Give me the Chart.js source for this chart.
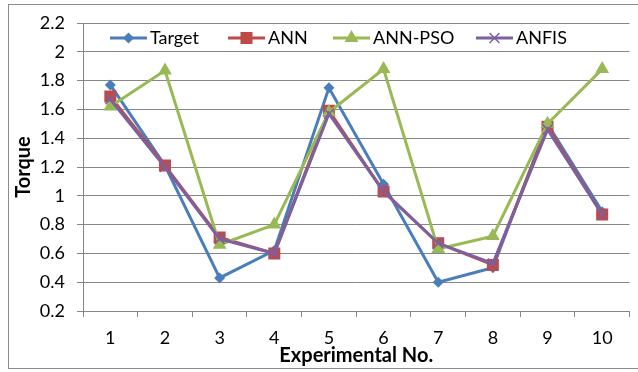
<!DOCTYPE html>
<html>
<head>
<meta charset="utf-8">
<script src="https://cdn.jsdelivr.net/npm/chart.js@4/dist/chart.umd.min.js"></script>
<style>
html,body{margin:0;padding:0;background:#fff;}
#wrap{position:relative;width:638px;height:372px;}
</style>
</head>
<body>
<div id="wrap"><canvas id="c" width="638" height="372"></canvas></div>
<script>
const categories = ['1','2','3','4','5','6','7','8','9','10'];
const target = [1.77, 1.21, 0.43, 0.62, 1.75, 1.08, 0.40, 0.50, 1.50, 0.89];
const ann    = [1.69, 1.21, 0.71, 0.60, 1.59, 1.03, 0.67, 0.52, 1.48, 0.87];
const annPso = [1.62, 1.87, 0.66, 0.80, 1.58, 1.88, 0.63, 0.72, 1.50, 1.88];
const anfis  = [1.67, 1.20, 0.70, 0.60, 1.57, 1.03, 0.67, 0.53, 1.46, 0.87];
const yTicks = [0.2, 0.4, 0.6, 0.8, 1, 1.2, 1.4, 1.6, 1.8, 2, 2.2];
const seriesNames = ['Target', 'ANN', 'ANN-PSO', 'ANFIS'];
const xTitle = 'Experimental No.';
const yTitle = 'Torque';

const FONT = 'Lato';
Chart.defaults.font.family = FONT;
Chart.defaults.font.size = 18;
Chart.defaults.color = '#000';

function drawMarker(ctx, style, x, y, r, color) {
  ctx.save();
  ctx.fillStyle = color; ctx.strokeStyle = color;
  ctx.beginPath();
  if (style === 'rectRot') {
    ctx.moveTo(x, y - r); ctx.lineTo(x + r, y); ctx.lineTo(x, y + r); ctx.lineTo(x - r, y); ctx.closePath(); ctx.fill();
  } else if (style === 'rect') {
    const s = r * Math.SQRT1_2; ctx.rect(x - s, y - s, 2 * s, 2 * s); ctx.fill();
  } else if (style === 'triangle') {
    ctx.moveTo(x, y - r); ctx.lineTo(x + r * 0.866, y + r * 0.5); ctx.lineTo(x - r * 0.866, y + r * 0.5); ctx.closePath(); ctx.fill();
  } else if (style === 'crossRot') {
    const s = r * Math.SQRT1_2; ctx.lineWidth = 1.5;
    ctx.moveTo(x - s, y - s); ctx.lineTo(x + s, y + s); ctx.moveTo(x + s, y - s); ctx.lineTo(x - s, y + s); ctx.stroke();
  }
  ctx.restore();
}

const borderPlugin = {
  id: 'frame',
  beforeDraw(chart) {
    const ctx = chart.ctx;
    ctx.save();
    ctx.fillStyle = '#fff';
    ctx.fillRect(0, 0, chart.width, chart.height);
    ctx.strokeStyle = '#8c8c8c';
    ctx.lineWidth = 1;
    ctx.strokeRect(8.5, 4.5, 640, 364);
    ctx.restore();
  }
};

const legendX = [110, 228, 333, 476];
const legendPlugin = {
  id: 'xlLegend',
  afterDraw(chart) {
    const ctx = chart.ctx;
    ctx.save();
    ctx.font = '18px ' + FONT;
    ctx.textBaseline = 'middle';
    const y = 38;
    chart.data.datasets.forEach((ds, i) => {
      const x = legendX[i];
      ctx.strokeStyle = ds.borderColor;
      ctx.lineWidth = 3;
      ctx.beginPath(); ctx.moveTo(x, y); ctx.lineTo(x + 37, y); ctx.stroke();
      drawMarker(ctx, ds.pointStyle, x + 18.5, y, ds.pointRadius, ds.pointBackgroundColor);
      ctx.fillStyle = '#000';
      ctx.fillText(ds.label, x + 40, y);
    });
    ctx.restore();
  }
};

function mk(label, data, color, style, radius, order) {
  return {
    label, data,
    borderColor: color, backgroundColor: color,
    pointBackgroundColor: color, pointBorderColor: color,
    pointStyle: style, pointRadius: radius, pointHoverRadius: radius,
    pointBorderWidth: style === 'crossRot' ? 1.5 : 0,
    borderWidth: 3, tension: 0, order
  };
}

new Chart(document.getElementById('c'), {
  type: 'line',
  data: {
    labels: categories,
    datasets: [
      mk(seriesNames[0], target, '#4A7EBB', 'rectRot', 5.5, 4),
      mk(seriesNames[1], ann, '#BE4B48', 'rect', 8.5, 3),
      mk(seriesNames[2], annPso, '#98B954', 'triangle', 8, 2),
      mk(seriesNames[3], anfis, '#7D60A0', 'crossRot', 7, 1)
    ]
  },
  options: {
    responsive: false,
    animation: false,
    layout: { padding: { left: 8, top: 23, right: 5, bottom: 6 } },
    plugins: { legend: { display: false }, tooltip: { enabled: false } },
    scales: {
      x: {
        offset: true,
        grid: { offset: true, drawOnChartArea: false, drawTicks: true, tickLength: 6, color: '#868686' },
        border: { color: '#868686', width: 1 },
        ticks: { padding: 12, maxRotation: 0, font: { size: 18, lineHeight: 1 } },
        title: { display: true, text: xTitle, font: { size: 20, weight: 'bold', lineHeight: 1 }, padding: { top: 0, bottom: 0 } },
        afterFit(s) { s.height = 55; s.paddingLeft = 0; s.paddingRight = 0; }
      },
      y: {
        min: 0.2, max: 2.2,
        afterBuildTicks(s) { s.ticks = yTicks.map(v => ({ value: v })); },
        grid: { color: '#868686', tickLength: 6 },
        border: { color: '#868686', width: 1 },
        ticks: { padding: 12, font: { size: 18 }, callback: v => String(+v.toFixed(1)) },
        title: { display: true, text: yTitle, font: { size: 20, weight: 'bold', lineHeight: 1 }, padding: { top: 6, bottom: 0 } },
        afterFit(s) { s.width = 75; s.paddingTop = 0; s.paddingBottom = 0; }
      }
    }
  },
  plugins: [borderPlugin, legendPlugin]
});
</script>
</body>
</html>
